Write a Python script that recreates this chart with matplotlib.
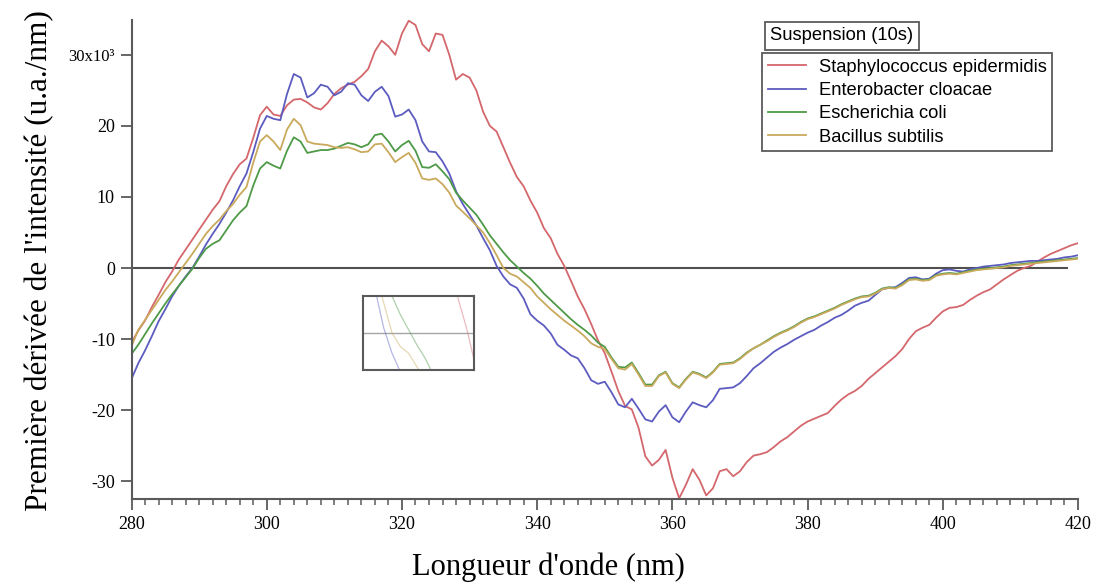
"""First derivative spectra of bacterial suspensions (10 s)."""

import matplotlib
matplotlib.use("Agg")
import matplotlib.pyplot as plt
from matplotlib.ticker import MultipleLocator
import numpy as np


WAVELENGTH_START = 280
WAVELENGTH_STOP = 420
ZERO_LINE_END = 418.5

SERIES_NAMES = [
    "Staphylococcus epidermidis",
    "Enterobacter cloacae",
    "Escherichia coli",
    "Bacillus subtilis",
]
SERIES_COLORS = ["#d4676c", "#5c5cc0", "#4e9a47", "#c9a95c"]

# first derivative (x10^3 u.a./nm), one value per nm from 280 to 420
staph = [
    -10.5, -8.8, -7.4, -5.5, -3.8, -2.0, -0.5, 1.2, 2.6, 4.0,
    5.4, 6.8, 8.2, 9.4, 11.5, 13.2, 14.6, 15.4, 18.3, 21.5,
    22.7, 21.6, 21.4, 22.9, 23.7, 23.8, 23.3, 22.6, 22.3, 23.2,
    24.5, 25.3, 25.8, 26.2, 27.0, 28.0, 30.5, 32.0, 31.2, 30.0,
    33.0, 34.8, 34.2, 31.5, 30.5, 33.0, 32.8, 30.0, 26.5, 27.3,
    26.8, 25.0, 22.0, 20.0, 19.2, 17.0, 14.8, 12.8, 11.5, 9.5,
    7.8, 5.6, 4.2, 2.0, 0.3, -1.8, -4.0, -5.8, -7.9, -10.2,
    -12.0, -14.6, -17.3, -19.4, -19.9, -22.5, -26.5, -27.8, -27.0, -25.6,
    -29.5, -32.4, -30.5, -28.3, -29.8, -32.0, -31.0, -28.6, -28.3, -29.3,
    -28.6, -27.3, -26.4, -26.2, -25.9, -25.2, -24.4, -23.8, -23.0, -22.2,
    -21.6, -21.2, -20.8, -20.4, -19.4, -18.5, -17.8, -17.3, -16.6, -15.6,
    -14.8, -14.0, -13.2, -12.4, -11.4, -10.0, -8.9, -8.4, -8.0, -7.0,
    -6.1, -5.6, -5.5, -5.2, -4.5, -3.9, -3.4, -3.0, -2.3, -1.6,
    -1.0, -0.4, 0.0, 0.3, 0.9, 1.5, 2.0, 2.4, 2.8, 3.2,
    3.5,
]
entero = [
    -15.6, -13.4, -11.6, -9.6, -7.5, -5.8, -4.0, -2.5, -1.2, 0.0,
    1.6, 3.3, 4.8, 6.2, 7.8, 9.5, 11.5, 13.3, 16.3, 19.6,
    21.4, 21.0, 20.8, 24.5, 27.3, 26.8, 24.0, 24.6, 25.8, 25.5,
    24.3, 24.8, 26.0, 25.8, 24.3, 23.5, 24.8, 25.5, 24.2, 21.3,
    21.6, 22.3, 20.8, 17.8, 16.4, 16.3, 15.0, 13.3, 10.8, 9.0,
    7.5, 6.0, 4.2, 2.5, 0.3, -1.2, -2.3, -2.8, -4.3, -6.5,
    -7.4, -8.1, -9.2, -10.8, -11.5, -12.3, -12.7, -14.1, -15.8, -16.3,
    -16.0, -17.5, -19.2, -19.6, -18.4, -19.8, -21.3, -21.6, -20.2, -19.3,
    -21.0, -21.7, -20.2, -18.9, -19.3, -19.6, -18.6, -17.0, -16.9, -16.8,
    -16.2, -15.2, -14.1, -13.4, -12.6, -11.8, -11.2, -10.7, -10.1, -9.6,
    -9.1, -8.7, -8.1, -7.6, -7.0, -6.6, -6.0, -5.3, -4.9, -4.6,
    -3.8, -3.0, -2.8, -2.7, -2.1, -1.4, -1.3, -1.6, -1.5, -0.8,
    -0.3, -0.2, -0.4, -0.5, -0.2, 0.0, 0.2, 0.3, 0.4, 0.5,
    0.7, 0.8, 0.9, 1.0, 1.0, 1.1, 1.2, 1.3, 1.5, 1.6,
    1.8,
]
ecoli = [
    -12.1, -10.8, -9.3, -7.8, -6.4, -5.0, -3.7, -2.5, -1.3, -0.1,
    1.4, 2.7, 3.4, 3.9, 5.3, 6.7, 7.8, 8.7, 11.6, 14.0,
    14.9, 14.4, 14.0, 16.5, 18.4, 17.8, 16.2, 16.4, 16.6, 16.6,
    16.8, 17.2, 17.6, 17.4, 17.0, 17.4, 18.7, 18.9, 17.8, 16.4,
    17.3, 17.9, 16.5, 14.2, 14.1, 14.6, 13.6, 12.5, 10.6, 9.5,
    8.5, 7.5, 6.1, 4.6, 3.4, 2.2, 1.1, 0.2, -0.7, -1.5,
    -2.5, -3.6, -4.5, -5.4, -6.3, -7.2, -8.0, -8.7, -9.5, -10.5,
    -11.1, -12.6, -13.9, -14.0, -13.3, -14.8, -16.4, -16.4, -15.1, -14.6,
    -16.2, -16.8, -15.6, -14.6, -14.9, -15.4, -14.6, -13.5, -13.4, -13.3,
    -12.7, -11.9, -11.3, -10.8, -10.2, -9.6, -9.1, -8.7, -8.2, -7.6,
    -7.1, -6.8, -6.4, -6.0, -5.6, -5.1, -4.7, -4.3, -4.0, -3.9,
    -3.5, -2.9, -2.7, -2.8, -2.3, -1.6, -1.5, -1.7, -1.6, -1.0,
    -0.8, -0.7, -0.8, -0.6, -0.4, -0.2, -0.1, 0.0, 0.1, 0.2,
    0.4, 0.5, 0.6, 0.7, 0.8, 0.9, 1.0, 1.1, 1.2, 1.3,
    1.4,
]
bacillus = [
    -11.0, -8.7, -7.3, -5.9, -4.5, -3.1, -1.9, -0.6, 0.7, 2.0,
    3.4, 4.8, 5.9, 6.8, 8.0, 9.0, 10.3, 11.4, 14.8, 17.8,
    18.7, 17.8, 16.6, 19.5, 21.0, 20.1, 17.8, 17.5, 17.4, 17.3,
    17.0, 16.9, 17.0, 16.7, 16.3, 16.4, 17.4, 17.5, 16.3, 14.9,
    15.6, 16.2, 14.8, 12.6, 12.4, 12.6, 11.8, 10.6, 8.8, 7.9,
    7.0, 6.0, 5.0, 3.5, 1.8, 0.0, -0.8, -1.2, -2.0, -2.8,
    -4.0, -4.9, -5.8, -6.6, -7.4, -8.1, -8.8, -9.6, -10.6, -11.1,
    -11.4, -12.8, -14.1, -14.3, -13.5, -15.0, -16.6, -16.6, -15.2, -14.7,
    -16.3, -16.9, -15.7, -14.7, -15.0, -15.5, -14.7, -13.6, -13.5, -13.4,
    -12.8, -12.0, -11.3, -10.8, -10.3, -9.7, -9.2, -8.8, -8.3, -7.7,
    -7.2, -6.9, -6.5, -6.1, -5.7, -5.2, -4.8, -4.4, -4.1, -4.0,
    -3.6, -3.0, -2.8, -2.9, -2.4, -1.7, -1.6, -1.8, -1.7, -1.1,
    -0.9, -0.8, -0.9, -0.7, -0.5, -0.3, -0.2, -0.1, 0.0, 0.1,
    0.3, 0.4, 0.5, 0.6, 0.7, 0.8, 0.9, 1.0, 1.1, 1.2,
    1.3,
]

Y_TICKS = [-30, -20, -10, 0, 10, 20, 30]
Y_TICK_LABELS = ["-30", "-20", "-10", "0", "10", "20", "30x10\u00b3"]
X_TICKS = [280, 300, 320, 340, 360, 380, 400, 420]

SERIF = ["Liberation Serif", "DejaVu Serif"]
SANS = ["Liberation Sans", "DejaVu Sans"]
AXIS_GREY = "#5a5a5a"


def draw_curves(ax, wavelengths, series, lw=1.3, alpha=1.0):
    lines = []
    for values, name, color in zip(series, SERIES_NAMES, SERIES_COLORS):
        (line,) = ax.plot(wavelengths, values, color=color, lw=lw, alpha=alpha, label=name,
                          solid_joinstyle="round")
        lines.append(line)
    return lines


def main() -> None:
    wavelengths = np.arange(WAVELENGTH_START, WAVELENGTH_STOP + 1)
    series = [staph, entero, ecoli, bacillus]

    fig = plt.figure(figsize=(10.98, 5.88), dpi=100)
    ax = fig.add_axes([0.1198, 0.1514, 0.862, 0.8146])

    ax.hlines(0, WAVELENGTH_START, ZERO_LINE_END, color="#505050", lw=1.5, zorder=1)
    lines = draw_curves(ax, wavelengths, series)

    ax.set_xlim(WAVELENGTH_START, WAVELENGTH_STOP)
    ax.set_ylim(-32.5, 34.9)
    for side in ["top", "right"]:
        ax.spines[side].set_visible(False)
    for side in ["left", "bottom"]:
        ax.spines[side].set_color(AXIS_GREY)
        ax.spines[side].set_linewidth(1.5)

    ax.set_xticks(X_TICKS)
    ax.set_xticklabels([str(t) for t in X_TICKS])
    ax.xaxis.set_minor_locator(MultipleLocator(2))
    ax.set_yticks(Y_TICKS)
    ax.set_yticklabels(Y_TICK_LABELS)
    ax.tick_params(axis="both", which="major", direction="out", length=8, width=1.3,
                   color=AXIS_GREY, labelsize=13, pad=4)
    ax.tick_params(axis="x", which="minor", direction="out", length=4, width=1.1, color=AXIS_GREY)
    for label in ax.get_xticklabels() + ax.get_yticklabels():
        label.set_family(SERIF)
    ax.get_yticklabels()[-1].set_fontsize(12)

    fig.text(548 / 1098, 1 - 567 / 588, "Longueur d'onde (nm)", ha="center", va="center",
             fontsize=22, family=SERIF)
    fig.text(40 / 1098, 1 - 261 / 588, "Première dérivée de l'intensité (u.a./nm)", ha="center",
             va="center", rotation=90, fontsize=22.5, family=SERIF)

    # zoomed inset around the zero crossings
    inset = fig.add_axes([363 / 1098, 1 - 370 / 588, 111 / 1098, 74 / 588])
    inset.hlines(0, WAVELENGTH_START, WAVELENGTH_STOP, color="#808080", lw=1.0, alpha=0.7)
    draw_curves(inset, wavelengths, series, lw=0.9, alpha=0.45)
    inset.set_xlim(331.5, 344.9)
    inset.set_ylim(-2.2, 2.2)
    inset.set_xticks([])
    inset.set_yticks([])
    for spine in inset.spines.values():
        spine.set_color(AXIS_GREY)
        spine.set_linewidth(1.5)

    legend = fig.legend(handles=lines, loc="upper left", bbox_to_anchor=(762 / 1098, 1 - 53 / 588),
                        prop={"family": SANS, "size": 13.2}, frameon=True, fancybox=False,
                        framealpha=1, edgecolor=AXIS_GREY, borderpad=0.3, labelspacing=0.35,
                        handlelength=2.1, handletextpad=0.7, borderaxespad=0)
    legend.get_frame().set_linewidth(1.3)
    fig.text(770 / 1098, 1 - 36 / 588, "Suspension (10s)", ha="left", va="center", fontsize=13.2,
             family=SANS, bbox=dict(boxstyle="square,pad=0.3", facecolor="white",
                                    edgecolor=AXIS_GREY, linewidth=1.3))

    fig.savefig("out.png", dpi=100)
    plt.close(fig)


if __name__ == "__main__":
    main()
